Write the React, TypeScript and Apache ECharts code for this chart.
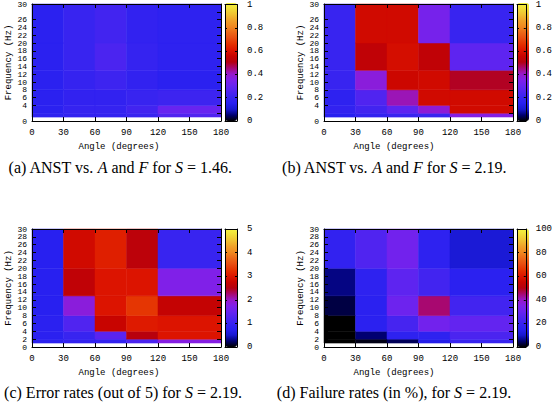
import React, { useEffect, useRef } from "react";
import * as echarts from "echarts";

// Bin edges (angle in degrees, frequency in Hz)
const angleEdges = [0, 30, 60, 90, 120, 180];
const freqEdges = [1, 2, 4, 8, 13, 20, 30];

// Rows: frequency bands 1-2, 2-4, 4-8, 8-13, 13-20, 20-30 Hz; columns: angle bins
const anstS146 = [
  [0.17, 0.18, 0.18, 0.2, 0.25],
  [0.16, 0.19, 0.19, 0.22, 0.3],
  [0.16, 0.18, 0.18, 0.2, 0.21],
  [0.16, 0.19, 0.21, 0.18, 0.16],
  [0.16, 0.2, 0.24, 0.19, 0.17],
  [0.16, 0.2, 0.22, 0.18, 0.17],
];
const anstS219 = [
  [0.15, 0.18, 0.2, 0.2, 0.36],
  [0.18, 0.22, 0.28, 0.38, 0.57],
  [0.17, 0.25, 0.41, 0.57, 0.57],
  [0.2, 0.37, 0.56, 0.57, 0.49],
  [0.2, 0.53, 0.58, 0.53, 0.28],
  [0.2, 0.57, 0.57, 0.33, 0.2],
];
const errorS219 = [
  [0.8, 0.9, 0.9, 1.2, 1.8],
  [0.8, 1.0, 1.35, 2.55, 3.0],
  [0.8, 1.25, 2.75, 3.05, 3.0],
  [0.75, 1.85, 3.0, 3.3, 2.7],
  [0.75, 2.65, 3.0, 3.0, 1.75],
  [0.75, 2.85, 3.1, 2.6, 1.0],
];
const failureS219 = [
  [0, 1, 4, 14, 20],
  [0, 5, 17, 17, 24],
  [0, 16, 23, 32, 29],
  [3, 16, 31, 45, 22],
  [6, 17, 28, 22, 16],
  [18, 25, 32, 17, 11],
];

const colorMax = [1, 1, 5, 100];
const colorInterval = [0.2, 0.2, 1, 20];
const captions = [
  "(a) ANST vs. {i|A} and {i|F} for {i|S} = 1.46.",
  "(b) ANST vs. {i|A} and {i|F} for {i|S} = 2.19.",
  "(c) Error rates (out of 5) for {i|S} = 2.19.",
  "(d) Failure rates (in %), for {i|S} = 2.19.",
];

const palette = [
  "#000000", "#000070", "#1818d0", "#2820f0", "#3824f0", "#5024f0", "#6824f0",
  "#8020e8", "#9818c8", "#a80870", "#b40010", "#c80400", "#dc1400", "#e43000",
  "#e84c10", "#ec6818", "#f08820", "#f0a028", "#f0c030", "#f0dc38", "#f4f440",
];

const MONO = '"Liberation Mono", "DejaVu Sans Mono", monospace';
const SERIF = '"Liberation Serif", "DejaVu Serif", serif';

const PW = 189;
const PH = 118;
const CBW = 12;
const CAP = 16;
const layout = [
  { left: 32, top: 3, cbLeft: 225, nameShift: -7.5, capX: 120, capY: 167 },
  { left: 324, top: 3, cbLeft: 517, nameShift: -24.5, capX: 394, capY: 167 },
  { left: 32, top: 229, cbLeft: 225, nameShift: -7.5, capX: 123, capY: 392 },
  { left: 324, top: 229, cbLeft: 517, nameShift: -24.5, capX: 394, capY: 392 },
];

const datasets = [anstS146, anstS219, errorS219, failureS219];

function buildCells(matrix: number[][]) {
  const cells: number[][] = [];
  for (let r = 0; r < freqEdges.length - 1; r++) {
    for (let c = 0; c < angleEdges.length - 1; c++) {
      cells.push([angleEdges[c], angleEdges[c + 1], freqEdges[r], freqEdges[r + 1], matrix[r][c]]);
    }
  }
  return cells;
}

const black = { color: "#000", width: 1 };

function buildOption() {
  const grid: any[] = [];
  const xAxis: any[] = [];
  const yAxis: any[] = [];
  const series: any[] = [];
  const visualMap: any[] = [];
  const graphic: any[] = [];

  layout.forEach((L, i) => {
    const g = grid.length;
    grid.push({ left: L.left, top: L.top, width: PW, height: PH, containLabel: false });
    const xb = xAxis.length;
    xAxis.push({
      type: "value", gridIndex: g, position: "bottom", min: 0, max: 180, interval: 30, z: 6,
      axisLine: { show: true, onZero: false, lineStyle: black },
      axisTick: { show: true, inside: true, length: 4, lineStyle: black },
      axisLabel: { show: true, fontFamily: MONO, fontSize: 9, color: "#000", margin: 7, showMinLabel: true, showMaxLabel: true },
      splitLine: { show: false },
      name: "Angle (degrees)", nameLocation: "middle", nameGap: 21,
      nameTextStyle: { fontFamily: MONO, fontSize: 9, color: "#000", padding: [0, -2 * L.nameShift, 0, 0] },
    });
    xAxis.push({
      type: "value", gridIndex: g, position: "top", min: 0, max: 180, interval: 30, z: 6,
      axisLine: { show: true, onZero: false, lineStyle: black },
      axisTick: { show: true, inside: true, length: 4, lineStyle: black },
      axisLabel: { show: false }, splitLine: { show: false },
    });
    const yl = yAxis.length;
    yAxis.push({
      type: "value", gridIndex: g, position: "left", min: 0, max: 30, interval: 2, z: 6,
      axisLine: { show: true, onZero: false, lineStyle: black },
      axisTick: { show: true, inside: true, length: 4, lineStyle: black },
      axisLabel: {
        show: true, fontFamily: MONO, fontSize: 8, lineHeight: 7.5, color: "#000", margin: 5,
        showMinLabel: true, showMaxLabel: true, hideOverlap: false,
      },
      splitLine: { show: false },
      name: "Frequency (Hz)", nameLocation: "middle", nameGap: 18, nameRotate: 90,
      nameTextStyle: { fontFamily: MONO, fontSize: 9, color: "#000" },
    });
    yAxis.push({
      type: "value", gridIndex: g, position: "right", min: 0, max: 30, interval: 2, z: 6,
      axisLine: { show: true, onZero: false, lineStyle: black },
      axisTick: { show: true, inside: true, length: 4, lineStyle: black },
      axisLabel: { show: false }, splitLine: { show: false },
    });

    series.push({
      type: "custom",
      xAxisIndex: xb,
      yAxisIndex: yl,
      silent: true,
      z: 2,
      encode: { x: [0, 1], y: [2, 3] },
      data: buildCells(datasets[i]),
      renderItem: (params: any, api: any) => {
        const p0 = api.coord([api.value(0), api.value(3)]);
        const p1 = api.coord([api.value(1), api.value(2)]);
        const col = api.visual("color");
        return {
          type: "rect",
          shape: { x: p0[0], y: p0[1], width: p1[0] - p0[0], height: p1[1] - p0[1] },
          style: { fill: col, stroke: col, lineWidth: 0.5 },
        };
      },
    });

    visualMap.push({
      type: "continuous",
      seriesIndex: i,
      dimension: 4,
      min: 0,
      max: colorMax[i],
      calculable: false,
      orient: "vertical",
      left: L.cbLeft,
      top: L.top,
      itemWidth: CBW,
      itemHeight: PH,
      padding: 0,
      inRange: { color: palette },
      z: 4,
    });

    // colour bar frame and ticks
    const cg = grid.length;
    grid.push({ left: L.cbLeft, top: L.top, width: CBW, height: PH, containLabel: false });
    ["bottom", "top"].forEach((pos) => {
      xAxis.push({
        type: "value", gridIndex: cg, position: pos, min: 0, max: 1, z: 6,
        axisLine: { show: true, onZero: false, lineStyle: black },
        axisTick: { show: false }, axisLabel: { show: false }, splitLine: { show: false },
      });
    });
    ["left", "right"].forEach((pos) => {
      yAxis.push({
        type: "value", gridIndex: cg, position: pos, min: 0, max: colorMax[i], interval: colorInterval[i], z: 6,
        axisLine: { show: true, onZero: false, lineStyle: black },
        axisTick: { show: true, inside: true, length: 2, lineStyle: black },
        axisLabel: pos === "right"
          ? { show: true, fontFamily: MONO, fontSize: 9, color: "#000", margin: 10, showMinLabel: true, showMaxLabel: true }
          : { show: false },
        splitLine: { show: false },
      });
    });

    graphic.push({
      type: "text",
      x: L.capX,
      y: L.capY,
      style: {
        text: captions[i],
        fontFamily: SERIF,
        fontSize: CAP,
        fill: "#000",
        align: "center",
        verticalAlign: "middle",
        rich: { i: { fontFamily: SERIF, fontSize: CAP, fontStyle: "italic", fill: "#000" } },
      },
    });
  });

  return {
    animation: false,
    backgroundColor: "#fff",
    grid,
    xAxis,
    yAxis,
    series,
    visualMap,
    graphic,
  };
}

export default function App() {
  const ref = useRef<HTMLDivElement>(null);
  useEffect(() => {
    if (!ref.current) return;
    const chart = echarts.init(ref.current, null, { renderer: "svg" });
    chart.setOption(buildOption() as any);
    return () => chart.dispose();
  }, []);
  return (
    <div
      ref={ref}
      style={{ position: "fixed", left: 0, top: 0, width: 555, height: 417, background: "#fff" }}
    />
  );
}
